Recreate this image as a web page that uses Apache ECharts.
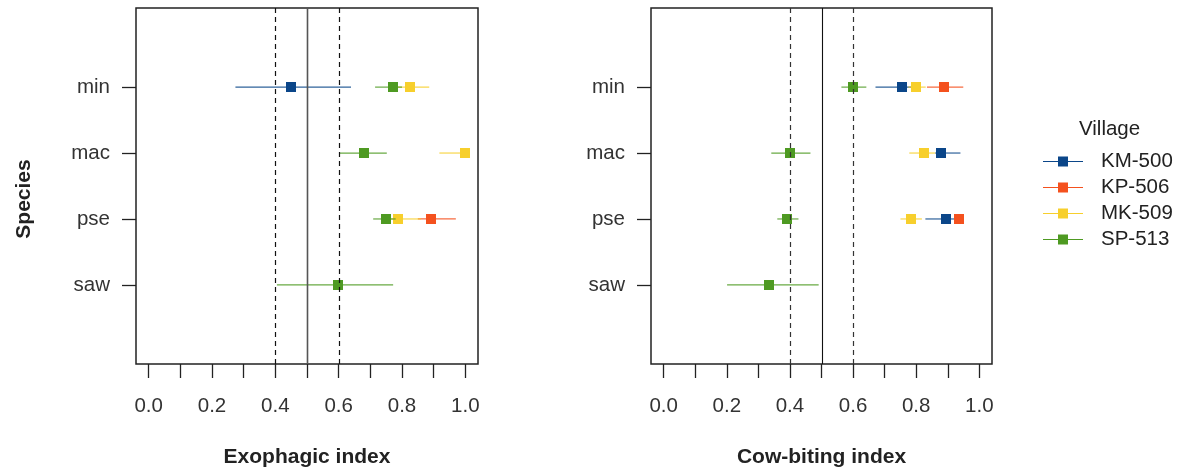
<!DOCTYPE html>
<html>
<head>
<meta charset="utf-8">
<script src="https://cdn.jsdelivr.net/npm/echarts@6/dist/echarts.min.js"></script>
<style>
html,body{margin:0;padding:0;background:#fff;}
#chart{width:1189px;height:467px;}
</style>
</head>
<body>
<div id="chart"></div>
<script>
// Species shown top to bottom
const species = ['min', 'mac', 'pse', 'saw'];
const villages = ['KM-500', 'KP-506', 'MK-509', 'SP-513'];
const villageColors = ['#0b4689', '#f4511e', '#f7cf2c', '#4e9a22'];
const xTicks = [0, 0.1, 0.2, 0.3, 0.4, 0.5, 0.6, 0.7, 0.8, 0.9, 1.0];
const xTickLabels = [0, 0.2, 0.4, 0.6, 0.8, 1.0];
const refDashed = [0.4, 0.6];
const refSolid = [0.5];

// [low, estimate, high] per species (min, mac, pse, saw); null = not present
// Exophagic index
const exoKM500 = [[0.274, 0.449, 0.639], null, null, null];
const exoKP506 = [null, null, [0.85, 0.892, 0.970], null];
const exoMK509 = [[0.785, 0.826, 0.886], [0.918, 1.0, 1.0], [0.765, 0.788, 0.86], null];
const exoSP513 = [[0.715, 0.771, 0.80], [0.601, 0.680, 0.752], [0.709, 0.749, 0.78], [0.405, 0.598, 0.772]];
// Cow-biting index
const cowKM500 = [[0.671, 0.755, 0.79], [0.86, 0.879, 0.940], [0.829, 0.894, 0.92], null];
const cowKP506 = [[0.834, 0.887, 0.949], null, [0.92, 0.937, 0.95], null];
const cowMK509 = [[0.775, 0.800, 0.83], [0.778, 0.826, 0.86], [0.750, 0.782, 0.818], null];
const cowSP513 = [[0.563, 0.601, 0.642], [0.341, 0.399, 0.465], [0.360, 0.391, 0.427], [0.201, 0.333, 0.491]];

const exoSets = [exoKM500, exoKP506, exoMK509, exoSP513];
const cowSets = [cowKM500, cowKP506, cowMK509, cowSP513];

const FONT = '"Liberation Sans", Arial, sans-serif';
const TXT = '#222';
const FS = 20.5;

function ypos(i) { return species.length - i; }

function toData(arr) {
  const out = [];
  arr.forEach((v, i) => { if (v) out.push([v[0], v[1], v[2], ypos(i)]); });
  return out;
}

function ciRender(color) {
  return function (params, api) {
    const y = api.value(3);
    const lo = api.coord([api.value(0), y]);
    const hi = api.coord([api.value(2), y]);
    const c = api.coord([api.value(1), y]);
    return {
      type: 'group',
      children: [
        { type: 'line', shape: { x1: lo[0], y1: lo[1], x2: hi[0], y2: hi[1] }, style: { stroke: color, lineWidth: 1.2, opacity: 0.85 } },
        { type: 'rect', shape: { x: Math.round(c[0]) - 5, y: Math.round(c[1]) - 5, width: 10, height: 10 }, style: { fill: color } }
      ]
    };
  };
}

function refRender(dashed, color, width) {
  return function (params, api) {
    const cs = params.coordSys;
    const p = api.coord([api.value(0), 1]);
    const x = Math.round(p[0]) + 0.5;
    return {
      type: 'line',
      shape: { x1: x, y1: cs.y, x2: x, y2: cs.y + cs.height },
      style: { stroke: color, lineWidth: width, lineDash: dashed ? [5, 4] : null }
    };
  };
}

function xAxisCfg(gridIndex, name) {
  return {
    type: 'value', gridIndex: gridIndex, min: -0.04, max: 1.04,
    splitLine: { show: false },
    axisLine: { show: false, onZero: false },
    axisTick: { show: true, length: 14, customValues: xTicks, lineStyle: { color: TXT, width: 1.3 } },
    axisLabel: { customValues: xTickLabels, margin: 32, fontSize: FS, color: '#333', fontFamily: FONT,
      formatter: v => v.toFixed(1) },
    name: name, nameLocation: 'middle', nameGap: 83,
    nameTextStyle: { fontSize: 21, fontWeight: 'bold', color: TXT, fontFamily: FONT }
  };
}

function yAxisCfg(gridIndex) {
  return {
    type: 'value', gridIndex: gridIndex, min: -0.2, max: 5.2,
    splitLine: { show: false },
    axisLine: { show: false, onZero: false },
    axisTick: { show: true, length: 14, customValues: [1, 2, 3, 4], lineStyle: { color: TXT, width: 1.3 } },
    axisLabel: { customValues: [1, 2, 3, 4], margin: 26, fontSize: FS, color: '#333', fontFamily: FONT,
      formatter: v => species[species.length - v] }
  };
}

const series = [];
[exoSets, cowSets].forEach((sets, gi) => {
  sets.forEach((arr, vi) => {
    series.push({
      type: 'custom', name: villages[vi], xAxisIndex: gi, yAxisIndex: gi,
      itemStyle: { color: villageColors[vi] },
      renderItem: ciRender(villageColors[vi]),
      encode: { x: [0, 1, 2], y: 3 },
      data: toData(arr), z: 2 + vi, silent: true
    });
  });
  series.push({
    type: 'custom', xAxisIndex: gi, yAxisIndex: gi, silent: true, z: 10,
    renderItem: refRender(true, gi === 0 ? '#111' : '#333', 1.2),
    encode: { x: 0 }, data: refDashed.map(v => [v])
  });
  series.push({
    type: 'custom', xAxisIndex: gi, yAxisIndex: gi, silent: true, z: 10,
    renderItem: refRender(false, gi === 0 ? '#555' : '#111', gi === 0 ? 1.6 : 1.1),
    encode: { x: 0 }, data: refSolid.map(v => [v])
  });
});

const legendIcon = 'path://M0,4.4 L40,4.4 L40,5.6 L0,5.6 Z M15,0 L25,0 L25,10 L15,10 Z';

const chart = echarts.init(document.getElementById('chart'), null, { renderer: 'canvas' });
chart.setOption({
  animation: false,
  backgroundColor: '#fff',
  grid: [
    { left: 136, top: 8, width: 342, height: 356, show: true, borderColor: '#222', borderWidth: 1.5, backgroundColor: 'transparent', outerBoundsMode: 'none', containLabel: false },
    { left: 651, top: 8, width: 341, height: 356, show: true, borderColor: '#222', borderWidth: 1.5, backgroundColor: 'transparent', outerBoundsMode: 'none', containLabel: false }
  ],
  xAxis: [xAxisCfg(0, 'Exophagic index'), xAxisCfg(1, 'Cow-biting index')],
  yAxis: [yAxisCfg(0), yAxisCfg(1)],
  legend: {
    orient: 'vertical', left: 1043, top: 151, padding: 0,
    itemWidth: 40, itemHeight: 10, itemGap: 5,
    data: villages.map(v => ({ name: v, icon: legendIcon })),
    textStyle: { fontSize: FS, color: TXT, fontFamily: FONT, padding: [0, 0, 0, 13] },
    selectedMode: false
  },
  graphic: [
    { type: 'text', left: 1079, top: 119, style: { text: 'Village', fontSize: FS, fill: TXT, fontFamily: FONT } },
    { type: 'text', x: 24, y: 199, rotation: Math.PI / 2,
      style: { text: 'Species', fontSize: 21, fontWeight: 'bold', fill: TXT, fontFamily: FONT, align: 'center', verticalAlign: 'middle' } }
  ],
  series: series
});
</script>
</body>
</html>
